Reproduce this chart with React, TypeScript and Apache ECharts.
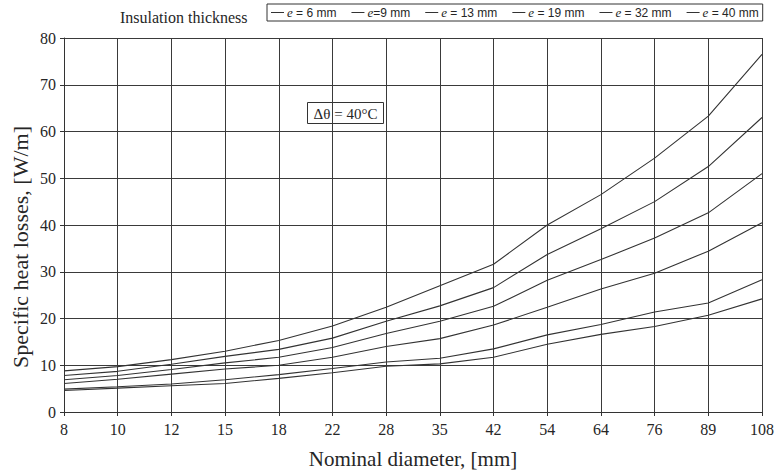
import React, { useEffect, useRef } from "react";
import * as echarts from "echarts";

const categories = ["8", "10", "12", "15", "18", "22", "28", "35", "42", "54", "64", "76", "89", "108"];
const seriesNames = ["e = 6 mm", "e=9 mm", "e = 13 mm", "e = 19 mm", "e = 32 mm", "e = 40 mm"];
const e6 = [8.8, 9.7, 11.2, 13.0, 15.3, 18.4, 22.4, 27.0, 31.6, 40.0, 46.5, 54.3, 63.3, 76.5];
const e9 = [7.8, 8.7, 10.2, 11.9, 13.4, 15.8, 19.4, 22.7, 26.6, 33.7, 39.2, 45.0, 52.5, 63.0];
const e13 = [6.9, 7.8, 9.1, 10.5, 11.7, 13.8, 16.8, 19.4, 22.6, 28.2, 32.6, 37.2, 42.6, 51.0];
const e19 = [6.1, 7.0, 8.1, 9.2, 10.0, 11.7, 14.0, 15.7, 18.6, 22.4, 26.3, 29.7, 34.4, 40.5];
const e32 = [4.9, 5.4, 6.0, 6.9, 8.0, 9.3, 10.7, 11.5, 13.5, 16.5, 18.7, 21.4, 23.3, 28.3];
const e40 = [4.6, 5.1, 5.6, 6.1, 7.2, 8.4, 9.8, 10.3, 11.7, 14.5, 16.6, 18.3, 20.7, 24.2];
const allSeries = [e6, e9, e13, e19, e32, e40];

const SERIF = "Liberation Serif, DejaVu Serif, serif";
const INK = "#262626";

export default function App() {
  const ref = useRef<HTMLDivElement>(null);
  useEffect(() => {
    if (!ref.current) return;
    const chart = echarts.init(ref.current, undefined, { renderer: "svg" });
    chart.setOption({
      animation: false,
      backgroundColor: "#ffffff",
      title: {
        text: "Insulation thickness",
        left: 115,
        top: 4,
        textStyle: { fontFamily: SERIF, fontSize: 16, fontWeight: "normal", color: INK },
      },
      legend: {
        data: seriesNames,
        left: 267,
        top: 4,
        padding: [2, 4, 2, 4],
        borderColor: "#333",
        borderWidth: 1,
        itemGap: 15,
        itemWidth: 13,
        itemHeight: 1,
        icon: "rect",
        formatter: (name: string) => "{i|e}" + name.slice(1),
        textStyle: {
          fontFamily: "Liberation Sans Narrow, Liberation Sans, Arial, sans-serif",
          fontSize: 12,
          color: INK,
          padding: [0, 0, 0, -2],
          rich: {
            i: { fontFamily: SERIF, fontStyle: "italic", fontSize: 13, color: INK },
          },
        },
      },
      grid: { left: 64, right: 14, top: 38, bottom: 57 },
      xAxis: {
        type: "category",
        data: categories,
        boundaryGap: false,
        name: "Nominal diameter, [mm]",
        nameLocation: "middle",
        nameGap: 36,
        nameTextStyle: { fontFamily: SERIF, fontSize: 21, color: INK },
        axisLine: { lineStyle: { color: "#333", width: 1 } },
        axisTick: { show: true, length: 4, lineStyle: { color: "#333" } },
        axisLabel: { fontFamily: SERIF, fontSize: 16, color: INK, margin: 9 },
        splitLine: { show: true, lineStyle: { color: "#3a3a3a", width: 1 } },
      },
      yAxis: {
        type: "value",
        min: 0,
        max: 80,
        interval: 10,
        axisLine: { show: true, lineStyle: { color: "#333", width: 1 } },
        axisTick: { show: true, length: 4, lineStyle: { color: "#333" } },
        axisLabel: { fontFamily: SERIF, fontSize: 16, color: INK, margin: 8 },
        splitLine: { show: true, lineStyle: { color: "#3a3a3a", width: 1 } },
      },
      series: seriesNames.map((name, i) => ({
        name,
        type: "line",
        data: allSeries[i],
        showSymbol: false,
        symbol: "none",
        smooth: false,
        lineStyle: { color: "#333", width: 1.1 },
        itemStyle: { color: "#333" },
      })),
      graphic: [
        {
          type: "text",
          x: 20,
          y: 247,
          rotation: Math.PI / 2,
          style: {
            text: "Specific heat losses, [W/m]",
            font: "22px Liberation Serif",
            align: "center",
            verticalAlign: "middle",
            fill: INK,
          },
        },
        {
          type: "group",
          left: 307,
          top: 102,
          children: [
            {
              type: "rect",
              shape: { x: 0, y: 0, width: 76, height: 21 },
              style: { fill: "#ffffff", stroke: "#333", lineWidth: 1 },
            },
            {
              type: "text",
              x: 38,
              y: 11,
              style: {
                text: "Δθ = 40°C",
                font: "15px Liberation Serif",
                align: "center",
                verticalAlign: "middle",
                fill: INK,
              },
            },
          ],
        },
      ],
    });
    return () => chart.dispose();
  }, []);
  return <div ref={ref} style={{ width: 777, height: 474, position: "absolute", left: 0, top: 0 }} />;
}
